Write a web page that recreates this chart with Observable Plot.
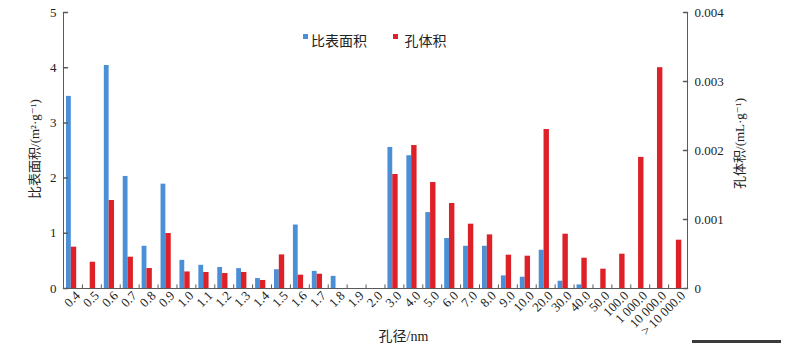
<!DOCTYPE html>
<html><head><meta charset="utf-8">
<script src="https://cdn.jsdelivr.net/npm/d3@7"></script>
<script src="https://cdn.jsdelivr.net/npm/@observablehq/plot@0.6"></script>
<style>
body{margin:0;background:#fff;}
#wrap{position:relative;width:798px;height:352px;}
#deco{position:absolute;left:692px;top:340px;width:89px;height:3px;background:#3a3a3a;}
</style></head><body>
<div id="wrap"><div id="deco"></div></div>
<script>
const categories = ["0.4","0.5","0.6","0.7","0.8","0.9","1.0","1.1","1.2","1.3","1.4","1.5","1.6","1.7","1.8","1.9","2.0","3.0","4.0","5.0","6.0","7.0","8.0","9.0","10.0","20.0","30.0","40.0","50.0","100.0","1 000.0","10 000.0","> 10 000.0"];
const surfaceArea = [3.48,0,4.04,2.03,0.765,1.89,0.51,0.42,0.38,0.36,0.18,0.34,1.15,0.31,0.22,0,0,2.555,2.405,1.375,0.905,0.765,0.765,0.228,0.204,0.693,0.132,0.065,0,0,0,0,0];
const poreVolume = [0.000599,0.000381,0.001275,0.000454,0.00029,0.000797,0.00024,0.000232,0.000217,0.000232,0.000116,0.000487,0.000193,0.000207,0,0,0,0.001652,0.002072,0.001536,0.001232,0.000932,0.000777,0.000483,0.000468,0.002304,0.000787,0.000439,0.00028,0.000497,0.0019,0.0032,0.0007];
const leftTicks = [0,1,2,3,4,5];
const rightTicks = [0,0.001,0.002,0.003,0.004];
const seriesNames = ["比表面积","孔体积"];
const xTitle = "孔径/nm";
const leftTitle = "比表面积/(m²·g⁻¹)";
const rightTitle = "孔体积/(mL·g⁻¹)";

const blue = "#4b8fd6", red = "#de2128", axisColor = "#5a5a5a", ink = "#222";
const k = leftTicks[leftTicks.length-1] / rightTicks[rightTicks.length-1];
const rows = categories.map((c,i)=>({c, a: surfaceArea[i], v: poreVolume[i]*k}));
const W = 798, ML = 63, MR = 111;
const bw = (W - ML - MR) / categories.length;
const serif = '"Liberation Serif", "Times New Roman", "DejaVu Serif", "Noto Sans CJK SC", serif';
const f = {fontFamily: serif};
const tickShape = {draw(context, l) { context.moveTo(0, 0); context.lineTo(0, -l); }};

const plot = Plot.plot({
  width: W, height: 352, marginLeft: ML, marginRight: MR, marginTop: 12, marginBottom: 64,
  style: {fontFamily: serif, fontSize: "13px", color: ink, background: "#fff"},
  x: {type: "band", domain: categories, padding: 0},
  y: {domain: [0, 5]},
  marks: [
    Plot.barY(rows.filter(d=>d.a>0), {x:"c", y:"a", fill: blue, insetLeft: 3, insetRight: bw-7.8}),
    Plot.barY(rows.filter(d=>d.v>0), {x:"c", y:"v", fill: red, insetLeft: 7.8, insetRight: bw-13.2}),
    // axis lines
    Plot.ruleY([0], {stroke: axisColor}),
    Plot.ruleX([categories[0]], {x: d=>d, dx: -bw/2, stroke: axisColor}),
    Plot.ruleX([categories[categories.length-1]], {x: d=>d, dx: bw/2, stroke: axisColor}),
    Plot.ruleX(categories.slice(1), {x: d=>d, dx: -bw/2, y1: 0, y2: 0.065, stroke: axisColor}),
    // left axis
    Plot.axisY(leftTicks, {anchor: "left", tickSize: 0, tickPadding: 7, fill: ink, label: null, tickFormat: d => String(d), fontSize: 13, ...f}),
    Plot.vector(leftTicks, {y: d=>d, frameAnchor: "left", length: 4, rotate: 90, anchor: "start", shape: tickShape, stroke: axisColor}),
    // right axis
    Plot.axisY(rightTicks.map(t=>t*k), {anchor: "right", tickSize: 0, tickPadding: 7, fill: ink, label: null, fontSize: 13, ...f,
      tickFormat: d => String(+(d/k).toFixed(4))}),
    Plot.vector(rightTicks.map(t=>t*k), {y: d=>d, frameAnchor: "right", length: 4, rotate: -90, anchor: "start", shape: tickShape, stroke: axisColor}),
    Plot.axisX({tickRotate: -45, tickSize: 0, tickPadding: 5, dx: 5, label: null, fill: ink, fontSize: 13, ...f}),
    Plot.text([xTitle], {text: d=>d, frameAnchor: "bottom", textAnchor: "middle", dx: 28, dy: 52, fontSize: 14, fill: ink, ...f}),
    Plot.text([leftTitle], {text: d=>d, frameAnchor: "left", textAnchor: "middle", rotate: -90, dx: -28.5, dy: -1.5, fontSize: 13, fill: ink, ...f}),
    Plot.text([rightTitle], {text: d=>d, frameAnchor: "right", textAnchor: "middle", rotate: -90, dx: 52, dy: -7, fontSize: 13, fill: ink, ...f}),
    Plot.dot([0], {frameAnchor: "top-left", dx: 242, dy: 24, symbol: "square", r: 2.8, fill: blue}),
    Plot.text([seriesNames[0]], {text: d=>d, frameAnchor: "top-left", dx: 247.5, dy: 24, textAnchor: "start", fontSize: 14, fill: ink, ...f}),
    Plot.dot([0], {frameAnchor: "top-left", dx: 332, dy: 24, symbol: "square", r: 2.8, fill: red}),
    Plot.text([seriesNames[1]], {text: d=>d, frameAnchor: "top-left", dx: 341, dy: 24, textAnchor: "start", fontSize: 14, fill: ink, ...f})
  ]
});
document.getElementById("wrap").prepend(plot);
</script>
</body></html>
